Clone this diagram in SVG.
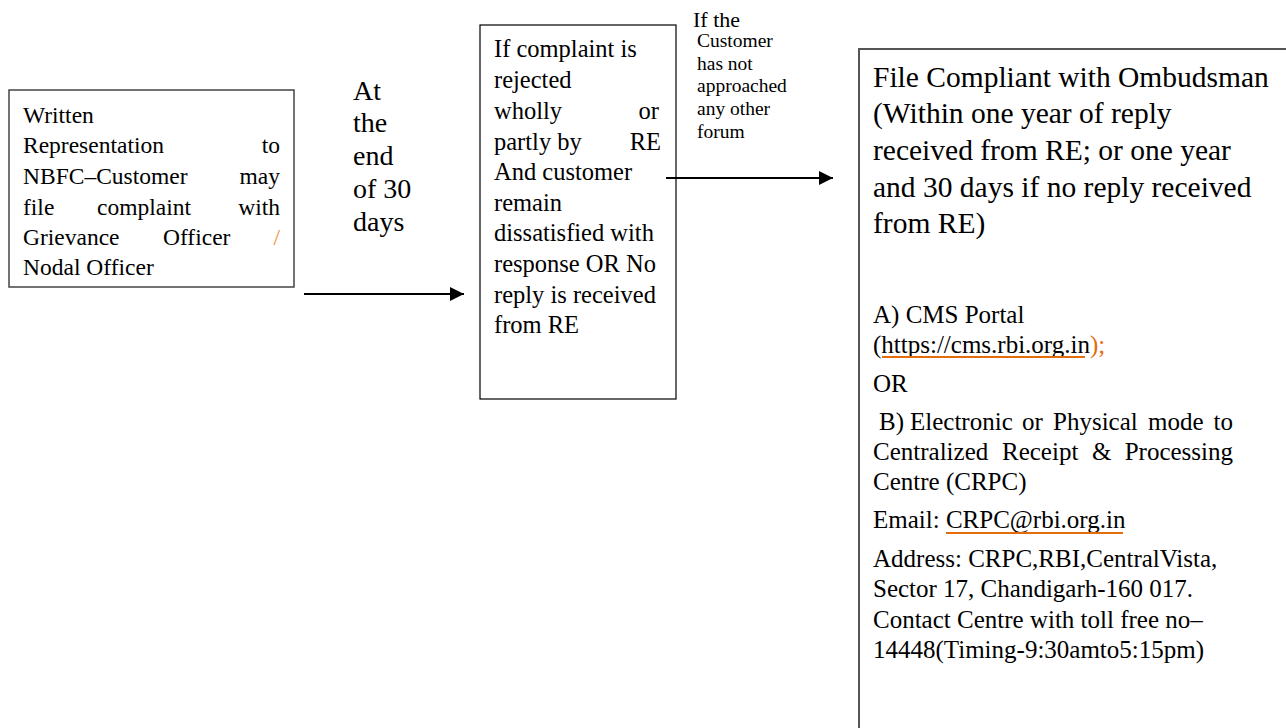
<svg xmlns="http://www.w3.org/2000/svg" width="1286" height="728" viewBox="0 0 1286 728">
<defs>
<style>
text{font-family:"Liberation Serif","Times New Roman",serif;fill:#000}
.t1{font-size:23.5px}
.t2{font-size:24.5px}
.lbl{font-size:28px}
.sm{font-size:19.5px}
.big{font-size:29.5px}
.md{font-size:25px}
.or{fill:#E46C0A}
.sl{fill:#F0903F}
.ul{stroke:#E46C0A;stroke-width:2}
.conn{stroke:#000;stroke-width:2;fill:none}
</style>
<marker id="ah" markerWidth="14" markerHeight="14" refX="14" refY="7" orient="auto" markerUnits="userSpaceOnUse">
<path d="M0,0 L14,7 L0,14 z" fill="#000"/>
</marker>
</defs>
<rect width="1286" height="728" fill="#fff"/>

<g id="node-written">
<rect x="9" y="90" width="285" height="197" fill="none" stroke="#444" stroke-width="1.5"/>
<text class="t1" x="23" y="123">Written</text>
<text class="t1" x="23" y="153">Representation</text>
<text class="t1" x="280" y="153" text-anchor="end">to</text>
<text class="t1" x="23" y="184">NBFC–Customer</text>
<text class="t1" x="280" y="184" text-anchor="end">may</text>
<text class="t1" x="23" y="215">file</text>
<text class="t1" x="97" y="215">complaint</text>
<text class="t1" x="280" y="215" text-anchor="end">with</text>
<text class="t1" x="23" y="245">Grievance</text>
<text class="t1" x="163" y="245">Officer</text>
<text class="t1 sl" x="280" y="245" text-anchor="end">/</text>
<text class="t1" x="23" y="275">Nodal Officer</text>
</g>

<g id="label-30days">
<text class="lbl" x="353" y="100">At</text>
<text class="lbl" x="353" y="132">the</text>
<text class="lbl" x="353" y="165">end</text>
<text class="lbl" x="353" y="198">of 30</text>
<text class="lbl" x="353" y="231">days</text>
</g>

<g id="node-rejected">
<rect x="480" y="25" width="196" height="374" fill="none" stroke="#000" stroke-width="1.2"/>
<text class="t2" x="494" y="57">If complaint is</text>
<text class="t2" x="494" y="88">rejected</text>
<text class="t2" x="494" y="119">wholly</text>
<text class="t2" x="659" y="119" text-anchor="end">or</text>
<text class="t2" x="494" y="150">partly by</text>
<text class="t2" x="661" y="150" text-anchor="end">RE</text>
<text class="t2" x="494" y="180">And customer</text>
<text class="t2" x="494" y="211">remain</text>
<text class="t2" x="494" y="241">dissatisfied with</text>
<text class="t2" x="494" y="272">response OR No</text>
<text class="t2" x="494" y="303">reply is received</text>
<text class="t2" x="494" y="333">from RE</text>
</g>

<g id="label-forum">
<text x="693" y="27" style="font-size:22px">If the</text>
<text class="sm" x="697" y="47">Customer</text>
<text class="sm" x="697" y="70">has not</text>
<text class="sm" x="697" y="92">approached</text>
<text class="sm" x="697" y="115">any other</text>
<text class="sm" x="697" y="138">forum</text>
</g>

<g id="node-ombudsman">
<rect x="859" y="49" width="460" height="700" fill="none" stroke="#555" stroke-width="2"/>
<text class="big" x="873" y="87">File Compliant with Ombudsman</text>
<text class="big" x="873" y="123">(Within one year of reply</text>
<text class="big" x="873" y="160">received from RE; or one year</text>
<text class="big" x="873" y="197">and 30 days if no reply received</text>
<text class="big" x="873" y="233">from RE)</text>
<text class="md" x="873" y="323">A) CMS Portal</text>
<text class="md" x="873" y="353">(https://cms.rbi.org.in<tspan class="or">);</tspan></text>
<line class="ul" x1="882" y1="357" x2="1085" y2="357"/>
<text class="md" x="873" y="392">OR</text>
<text class="md" x="879" y="430">B)</text>
<text class="md" x="910" y="430">Electronic</text>
<text class="md" x="1022" y="430">or</text>
<text class="md" x="1053" y="430">Physical</text>
<text class="md" x="1148" y="430">mode</text>
<text class="md" x="1233" y="430" text-anchor="end">to</text>
<text class="md" x="873" y="460">Centralized</text>
<text class="md" x="1002" y="460">Receipt</text>
<text class="md" x="1092" y="460">&amp;</text>
<text class="md" x="1233" y="460" text-anchor="end">Processing</text>
<text class="md" x="873" y="490">Centre (CRPC)</text>
<text class="md" x="873" y="528">Email: CRPC@rbi.org.in</text>
<line class="ul" x1="946" y1="533" x2="1123" y2="533"/>
<text class="md" x="873" y="567">Address: CRPC,RBI,CentralVista,</text>
<text class="md" x="873" y="597">Sector 17, Chandigarh-160 017.</text>
<text class="md" x="873" y="628">Contact Centre with toll free no–</text>
<text class="md" x="873" y="658">14448(Timing-9:30amto5:15pm)</text>
</g>

<g id="connectors">
<line class="conn" x1="304" y1="294" x2="464" y2="294" marker-end="url(#ah)"/>
<line class="conn" x1="666" y1="178" x2="833" y2="178" marker-end="url(#ah)"/>
</g>
</svg>
